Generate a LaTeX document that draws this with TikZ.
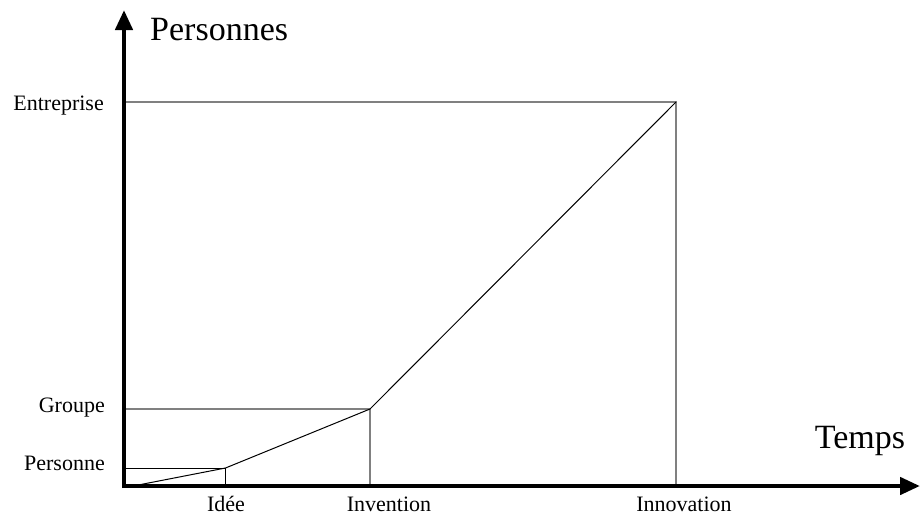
\documentclass[tikz,border=0pt]{standalone}
\usepackage{fontspec}
\setmainfont{Liberation Serif}
\usetikzlibrary{arrows.meta}
\begin{document}
\begin{tikzpicture}[x=1pt,y=-1pt,
  axis/.style={line width=4.5pt,-{Triangle[length=20pt,width=17pt]}},
  guide/.style={draw={rgb,255:red,128;green,128;blue,128},line width=1.5pt},
  curve/.style={draw=black,line width=1pt},
  lab/.style={font=\fontsize{22}{26}\selectfont,inner sep=0pt},
  big/.style={font=\fontsize{34}{40}\selectfont,inner sep=0pt}]
\useasboundingbox (0,0) rectangle (920,515);
% points
\coordinate (start) at (133,486);
\coordinate (pI) at (225.5,468);
\coordinate (pV) at (370,409);
\coordinate (pN) at (676,102);
\coordinate (yI) at (124,468);
\coordinate (yV) at (124,409);
\coordinate (yN) at (124,102);
\coordinate (xI) at (225.5,486);
\coordinate (xV) at (370,486);
\coordinate (xN) at (676,486);
\coordinate (ytop) at (124,10);
\coordinate (xend) at (920,486);
\coordinate (xstart) at (122,486);
\coordinate (ybot) at (124,488);
% guides
\draw[guide] (yV) -- (pV) -- (xV);
\draw[guide] (yN) -- (pN) -- (xN);
\draw[curve] (yI) -- (pI) -- (xI);
\draw[curve] (start) -- (pI) -- (pV) -- (pN);
% axes
\draw[axis] (ybot) -- (ytop);
\draw[axis] (xstart) -- (xend);
% labels
\node[big,anchor=base west] (ylab) at (150,40) {Personnes};
\node[big,anchor=base] (xlab) at (860,448) {Temps};
\node[lab,anchor=base east] (lN) at (104,110) {Entreprise};
\node[lab,anchor=base east] (lV) at (105,412) {Groupe};
\node[lab,anchor=base east] (lI) at (105,470) {Personne};
\node[lab,anchor=base] (tI) at (226,511) {Idée};
\node[lab,anchor=base] (tV) at (389,511) {Invention};
\node[lab,anchor=base] (tN) at (684,511) {Innovation};
\end{tikzpicture}
\end{document}
